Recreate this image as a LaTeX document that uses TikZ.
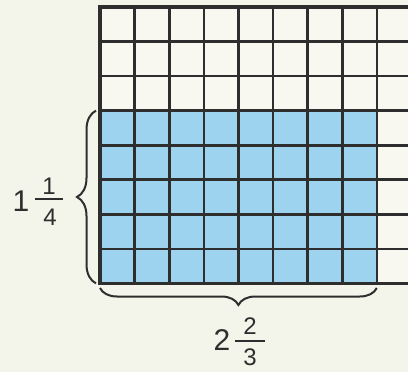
\documentclass[tikz,border=0pt]{standalone}
\usepackage{fontspec}
\setmainfont{Liberation Sans}
\usetikzlibrary{decorations.pathreplacing}
\definecolor{paper}{HTML}{F3F4EA}
\definecolor{cellbg}{HTML}{F8F8F1}
\definecolor{skyfill}{HTML}{9DD3EE}
\definecolor{inkgrey}{HTML}{2E2E2E}
\tikzset{
  gridline/.style={draw=inkgrey, line width=2.6pt},
  border/.style={draw=inkgrey, line width=3.6pt},
}

\begin{document}
\begin{tikzpicture}[x=1pt, y=-1pt,
  brace/.style={decorate, decoration={brace, amplitude=19pt},
                draw=inkgrey, line width=2pt},
  whole/.style={font=\fontsize{30}{30}\selectfont, text=inkgrey, inner sep=0pt},
  part/.style={font=\fontsize{24}{24}\selectfont, text=inkgrey, inner sep=0pt},
  bar/.style={draw=inkgrey, line width=1.4pt},
]
  % Background
  \fill[paper] (0,0) rectangle (408,372);
  \useasboundingbox (0,0) rectangle (408,372);

  % Grid: 9 columns, 8 rows
  \begin{scope}
    \clip (0,0) rectangle (408,372);
    \fill[cellbg] (100,7) rectangle (412,283.4);
    \fill[skyfill] (100,110.6) rectangle (376.8,283.4);
    \foreach \i in {1,...,8}
      \draw[gridline] ({100+\i*34.6},7) -- ({100+\i*34.6},283.4);
    \foreach \j in {1,...,7}
      \draw[gridline] (100,{7+\j*34.55}) -- (412,{7+\j*34.55});
    \draw[border] (414,7) -- (100,7) -- (100,283.4) -- (414,283.4);
  \end{scope}

  % Braces
  \coordinate (lbot) at (96,283.4);
  \coordinate (ltop) at (96,110.6);
  \coordinate (bright) at (376.8,288);
  \coordinate (bleft) at (100,288);
  \draw[brace] (lbot) -- (ltop);
  \draw[brace, decoration={amplitude=17pt}] (bright) -- (bleft);

  % Labels
  \node[whole] (wholeL) at (21,201) {1};
  \node[part]  (numL)   at (49,186) {1};
  \node[part]  (denL)   at (50,217) {4};
  \draw[bar] (35,199) -- (63,199);

  \node[whole] (wholeB) at (222,340) {2};
  \node[part]  (numB)   at (250,326) {2};
  \node[part]  (denB)   at (250,357) {3};
  \draw[bar] (235,341) -- (265,341);
\end{tikzpicture}
\end{document}
